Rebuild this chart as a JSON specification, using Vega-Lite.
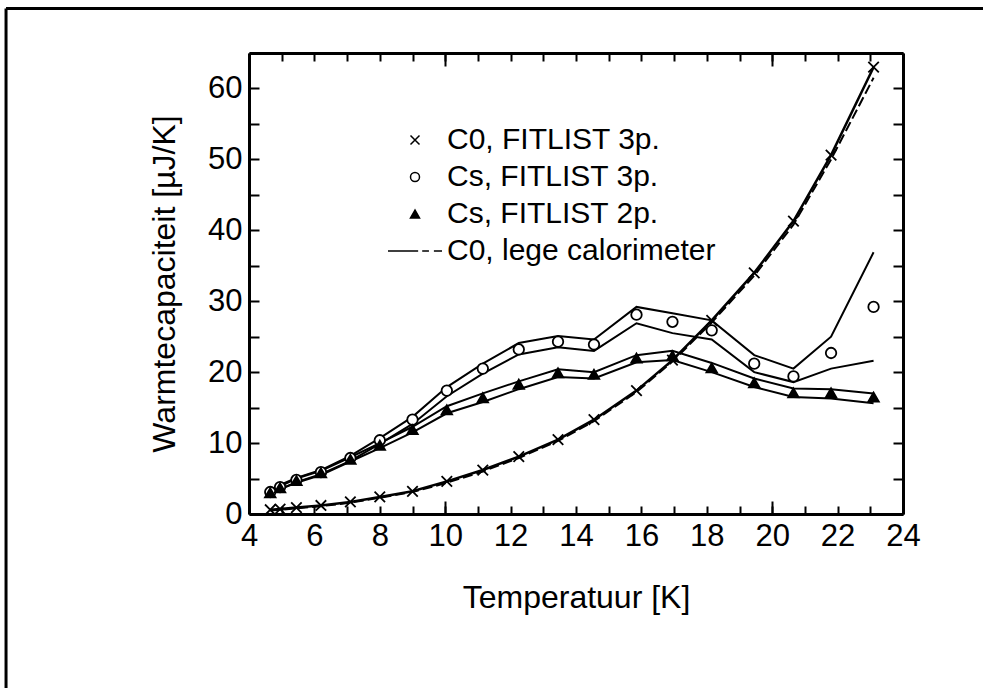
{
  "$schema": "https://vega.github.io/schema/vega-lite/v6.json",
  "width": 654,
  "height": 461,
  "autosize": {"type": "none"},
  "padding": {"left": 249, "top": 53, "right": 80, "bottom": 174},
  "background": "white",
  "config": {
    "view": {"stroke": null},
    "font": "Liberation Sans",
    "axis": {
      "grid": false,
      "domainColor": "black",
      "domainWidth": 3,
      "tickColor": "black",
      "tickWidth": 2,
      "labelColor": "black",
      "labelFont": "Liberation Sans",
      "labelFontSize": 31,
      "titleColor": "black",
      "titleFont": "Liberation Sans",
      "titleFontSize": 32,
      "titleFontWeight": "normal"
    },
    "legend": {
      "orient": "none",
      "legendX": 151,
      "legendY": 72,
      "padding": 0,
      "labelFont": "Liberation Sans",
      "labelFontSize": 30,
      "labelColor": "black",
      "labelLimit": 0,
      "labelOffset": 17,
      "rowPadding": 7,
      "symbolSize": 81,
      "symbolOffset": 0
    }
  },
  "datasets": {
    "meas": [
      {"T": 4.65, "series": "C0, FITLIST 3p.", "C": 0.6},
      {"T": 4.95, "series": "C0, FITLIST 3p.", "C": 0.7},
      {"T": 5.45, "series": "C0, FITLIST 3p.", "C": 0.9},
      {"T": 6.2, "series": "C0, FITLIST 3p.", "C": 1.2},
      {"T": 7.1, "series": "C0, FITLIST 3p.", "C": 1.7},
      {"T": 8.0, "series": "C0, FITLIST 3p.", "C": 2.4},
      {"T": 9.0, "series": "C0, FITLIST 3p.", "C": 3.2},
      {"T": 10.05, "series": "C0, FITLIST 3p.", "C": 4.6},
      {"T": 11.15, "series": "C0, FITLIST 3p.", "C": 6.2},
      {"T": 12.25, "series": "C0, FITLIST 3p.", "C": 8.1},
      {"T": 13.45, "series": "C0, FITLIST 3p.", "C": 10.5},
      {"T": 14.55, "series": "C0, FITLIST 3p.", "C": 13.3},
      {"T": 15.85, "series": "C0, FITLIST 3p.", "C": 17.4},
      {"T": 16.95, "series": "C0, FITLIST 3p.", "C": 21.7},
      {"T": 18.15, "series": "C0, FITLIST 3p.", "C": 27.3},
      {"T": 19.45, "series": "C0, FITLIST 3p.", "C": 34.0},
      {"T": 20.65, "series": "C0, FITLIST 3p.", "C": 41.3},
      {"T": 21.8, "series": "C0, FITLIST 3p.", "C": 50.6},
      {"T": 23.1, "series": "C0, FITLIST 3p.", "C": 63.0},

      {"T": 4.65, "series": "Cs, FITLIST 3p.", "C": 3.1, "lo": 2.8, "hi": 3.4},
      {"T": 4.95, "series": "Cs, FITLIST 3p.", "C": 3.8, "lo": 3.5, "hi": 4.1},
      {"T": 5.45, "series": "Cs, FITLIST 3p.", "C": 4.8, "lo": 4.5, "hi": 5.1},
      {"T": 6.2, "series": "Cs, FITLIST 3p.", "C": 5.9, "lo": 5.6, "hi": 6.2},
      {"T": 7.1, "series": "Cs, FITLIST 3p.", "C": 7.9, "lo": 7.5, "hi": 8.2},
      {"T": 8.0, "series": "Cs, FITLIST 3p.", "C": 10.4, "lo": 9.9, "hi": 10.7},
      {"T": 9.0, "series": "Cs, FITLIST 3p.", "C": 13.3, "lo": 12.7, "hi": 13.7},
      {"T": 10.05, "series": "Cs, FITLIST 3p.", "C": 17.4, "lo": 16.6, "hi": 17.9},
      {"T": 11.15, "series": "Cs, FITLIST 3p.", "C": 20.5, "lo": 19.8, "hi": 21.2},
      {"T": 12.25, "series": "Cs, FITLIST 3p.", "C": 23.2, "lo": 22.5, "hi": 24.1},
      {"T": 13.45, "series": "Cs, FITLIST 3p.", "C": 24.3, "lo": 23.5, "hi": 25.1},
      {"T": 14.55, "series": "Cs, FITLIST 3p.", "C": 23.9, "lo": 23.0, "hi": 24.6},
      {"T": 15.85, "series": "Cs, FITLIST 3p.", "C": 28.1, "lo": 26.9, "hi": 29.2},
      {"T": 16.95, "series": "Cs, FITLIST 3p.", "C": 27.1, "lo": 25.5, "hi": 28.3},
      {"T": 18.15, "series": "Cs, FITLIST 3p.", "C": 25.9, "lo": 24.6, "hi": 27.3},
      {"T": 19.45, "series": "Cs, FITLIST 3p.", "C": 21.2, "lo": 20.0, "hi": 22.4},
      {"T": 20.65, "series": "Cs, FITLIST 3p.", "C": 19.4, "lo": 18.6, "hi": 20.5},
      {"T": 21.8, "series": "Cs, FITLIST 3p.", "C": 22.7, "lo": 20.5, "hi": 25.0},
      {"T": 23.1, "series": "Cs, FITLIST 3p.", "C": 29.2, "lo": 21.6, "hi": 36.9},

      {"T": 4.65, "series": "Cs, FITLIST 2p.", "C": 3.0, "lo": 2.8, "hi": 3.2},
      {"T": 4.95, "series": "Cs, FITLIST 2p.", "C": 3.7, "lo": 3.5, "hi": 3.9},
      {"T": 5.45, "series": "Cs, FITLIST 2p.", "C": 4.7, "lo": 4.4, "hi": 5.0},
      {"T": 6.2, "series": "Cs, FITLIST 2p.", "C": 5.8, "lo": 5.5, "hi": 6.1},
      {"T": 7.1, "series": "Cs, FITLIST 2p.", "C": 7.7, "lo": 7.4, "hi": 8.0},
      {"T": 8.0, "series": "Cs, FITLIST 2p.", "C": 9.7, "lo": 9.3, "hi": 10.0},
      {"T": 9.0, "series": "Cs, FITLIST 2p.", "C": 11.9, "lo": 11.5, "hi": 12.3},
      {"T": 10.05, "series": "Cs, FITLIST 2p.", "C": 14.7, "lo": 14.2, "hi": 15.2},
      {"T": 11.15, "series": "Cs, FITLIST 2p.", "C": 16.4, "lo": 15.8, "hi": 17.0},
      {"T": 12.25, "series": "Cs, FITLIST 2p.", "C": 18.3, "lo": 17.6, "hi": 18.7},
      {"T": 13.45, "series": "Cs, FITLIST 2p.", "C": 19.9, "lo": 19.3, "hi": 20.4},
      {"T": 14.55, "series": "Cs, FITLIST 2p.", "C": 19.7, "lo": 19.1, "hi": 20.0},
      {"T": 15.85, "series": "Cs, FITLIST 2p.", "C": 22.0, "lo": 21.4, "hi": 22.4},
      {"T": 16.95, "series": "Cs, FITLIST 2p.", "C": 22.3, "lo": 21.7, "hi": 23.0},
      {"T": 18.15, "series": "Cs, FITLIST 2p.", "C": 20.6, "lo": 20.0, "hi": 21.3},
      {"T": 19.45, "series": "Cs, FITLIST 2p.", "C": 18.5, "lo": 17.9, "hi": 19.1},
      {"T": 20.65, "series": "Cs, FITLIST 2p.", "C": 17.1, "lo": 16.5, "hi": 17.7},
      {"T": 21.8, "series": "Cs, FITLIST 2p.", "C": 17.1, "lo": 16.3, "hi": 17.6},
      {"T": 23.1, "series": "Cs, FITLIST 2p.", "C": 16.5, "lo": 15.6, "hi": 17.0}
    ],
    "lege": [
      {"T": 4.65, "C": 0.5},
      {"T": 4.95, "C": 0.6},
      {"T": 5.45, "C": 0.8},
      {"T": 6.2, "C": 1.1},
      {"T": 7.1, "C": 1.6},
      {"T": 8.0, "C": 2.3},
      {"T": 9.0, "C": 3.1},
      {"T": 10.05, "C": 4.4},
      {"T": 11.15, "C": 6.0},
      {"T": 12.25, "C": 7.9},
      {"T": 13.45, "C": 10.3},
      {"T": 14.55, "C": 13.1},
      {"T": 15.85, "C": 17.2},
      {"T": 16.95, "C": 21.5},
      {"T": 18.15, "C": 27.0},
      {"T": 19.45, "C": 33.6},
      {"T": 20.65, "C": 40.8},
      {"T": 21.8, "C": 50.0},
      {"T": 23.1, "C": 61.5}
    ]
  },
  "layer": [
    {
      "data": {"name": "meas"},
      "transform": [{"filter": "datum.series === 'C0, FITLIST 3p.'"}],
      "mark": {"type": "line", "color": "black", "strokeWidth": 2.5},
      "encoding": {
        "x": {
          "field": "T", "type": "quantitative",
          "scale": {"domain": [4, 24], "nice": false, "zero": false},
          "axis": {
            "orient": "bottom",
            "values": [4, 5, 6, 7, 8, 9, 10, 11, 12, 13, 14, 15, 16, 17, 18, 19, 20, 21, 22, 23, 24],
            "tickSize": -8,
            "labelExpr": "datum.value % 2 === 0 ? datum.label : ''",
            "labelPadding": 15,
            "labelFlush": false,
            "labelOverlap": false,
            "title": "Temperatuur [K]",
            "titlePadding": 31
          }
        },
        "y": {
          "field": "C", "type": "quantitative",
          "scale": {"domain": [0, 65], "nice": false, "zero": false},
          "axis": {
            "orient": "left",
            "values": [0, 5, 10, 15, 20, 25, 30, 35, 40, 45, 50, 55, 60, 65],
            "tickSize": -10,
            "labelExpr": "datum.value % 10 === 0 ? datum.label : ''",
            "labelPadding": 17,
            "labelFlush": false,
            "labelOverlap": false,
            "title": "Warmtecapaciteit [µJ/K]",
            "titlePadding": 26
          }
        }
      }
    },
    {
      "data": {"name": "lege"},
      "mark": {"type": "line", "color": "black", "strokeWidth": 2, "strokeDash": [10, 4]},
      "encoding": {
        "x": {
          "field": "T", "type": "quantitative",
          "axis": {"orient": "top", "values": [10, 20], "tickSize": -13, "labels": false, "domain": false, "title": null}
        },
        "y": {"field": "C", "type": "quantitative", "axis": null}
      }
    },
    {
      "data": {"name": "meas"},
      "transform": [{"filter": "datum.series !== 'C0, FITLIST 3p.'"}],
      "mark": {"type": "line", "color": "black", "strokeWidth": 2},
      "encoding": {
        "x": {
          "field": "T", "type": "quantitative",
          "axis": {
            "orient": "top",
            "values": [4, 5, 6, 7, 8, 9, 10, 11, 12, 13, 14, 15, 16, 17, 18, 19, 20, 21, 22, 23, 24],
            "tickSize": -8,
            "labels": false,
            "title": null
          }
        },
        "y": {
          "field": "hi", "type": "quantitative",
          "axis": {
            "orient": "right",
            "values": [0, 5, 10, 15, 20, 25, 30, 35, 40, 45, 50, 55, 60, 65],
            "tickSize": -10,
            "labels": false,
            "title": null
          }
        },
        "detail": {"field": "series"}
      }
    },
    {
      "data": {"name": "meas"},
      "transform": [{"filter": "datum.series !== 'C0, FITLIST 3p.'"}],
      "mark": {"type": "line", "color": "black", "strokeWidth": 2},
      "encoding": {
        "x": {
          "field": "T", "type": "quantitative",
          "axis": {"orient": "bottom", "values": [10, 20], "tickSize": -13, "labels": false, "domain": false, "title": null}
        },
        "y": {"field": "lo", "type": "quantitative", "axis": null},
        "detail": {"field": "series"}
      }
    },
    {
      "data": {"name": "meas"},
      "mark": {"type": "point", "filled": true, "stroke": "black", "strokeWidth": 1.8, "size": 110, "opacity": 1},
      "encoding": {
        "x": {"field": "T", "type": "quantitative", "axis": null},
        "y": {"field": "C", "type": "quantitative", "axis": null},
        "shape": {
          "field": "series", "type": "nominal",
          "scale": {
            "domain": ["C0, FITLIST 3p.", "Cs, FITLIST 3p.", "Cs, FITLIST 2p.", "C0, lege calorimeter"],
            "range": ["M-1,-1L1,1M1,-1L-1,1", "circle", "triangle-up", "M-6,0H0.7M1.6,0H3.1M4.2,0H6"]
          },
          "legend": {
            "title": null,
            "encode": {"symbols": {"update": {"stroke": {"value": "black"}, "strokeWidth": {"value": 2}, "size": {"value": 81}}}}
          }
        },
        "fill": {
          "field": "series", "type": "nominal",
          "scale": {
            "domain": ["C0, FITLIST 3p.", "Cs, FITLIST 3p.", "Cs, FITLIST 2p.", "C0, lege calorimeter"],
            "range": ["black", "white", "black", "white"]
          },
          "legend": {
            "title": null,
            "encode": {"symbols": {"update": {"stroke": {"value": "black"}, "strokeWidth": {"value": 2}, "size": {"value": 81}}}}
          }
        }
      }
    },
    {
      "data": {"values": [{}]},
      "mark": {"type": "rule", "color": "black", "strokeWidth": 3},
      "encoding": {
        "x": {"datum": -3.43, "type": "quantitative", "axis": null},
        "y": {"datum": 71.28, "type": "quantitative", "axis": null},
        "y2": {"datum": -40}
      }
    },
    {
      "data": {"values": [{}]},
      "mark": {"type": "rule", "color": "black", "strokeWidth": 3},
      "encoding": {
        "x": {"datum": -3.43, "type": "quantitative", "axis": null},
        "x2": {"datum": 40},
        "y": {"datum": 71.28, "type": "quantitative", "axis": null}
      }
    }
  ],
  "resolve": {"axis": {"x": "independent", "y": "independent"}}
}
